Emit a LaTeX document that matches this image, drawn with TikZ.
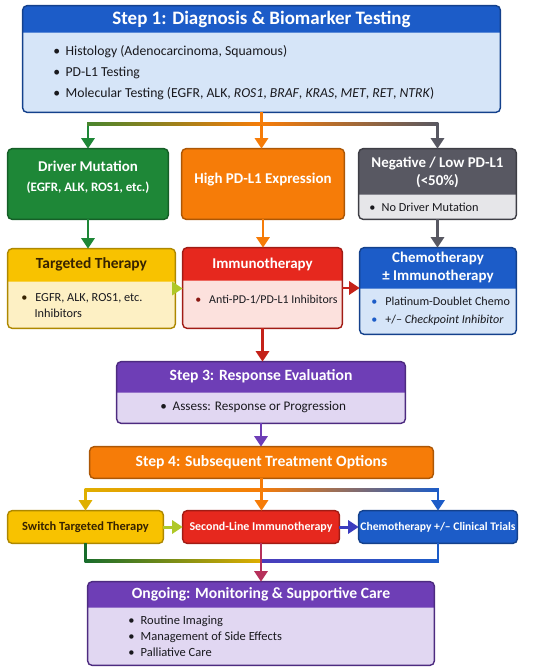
\documentclass[tikz,border=0pt]{standalone}
\usepackage{fontspec}
\setmainfont{Carlito}
\usetikzlibrary{arrows.meta,calc,fit}
\definecolor{ink}{RGB}{25,25,30}
\definecolor{cblue}{RGB}{28,92,200}
\definecolor{lblue}{RGB}{214,229,248}
\definecolor{cgreen}{RGB}{30,135,55}
\definecolor{corange}{RGB}{246,124,8}
\definecolor{cgray}{RGB}{88,88,98}
\definecolor{lgray}{RGB}{230,230,233}
\definecolor{cyellow}{RGB}{248,194,0}
\definecolor{lyellow}{RGB}{253,240,196}
\definecolor{tyellow}{RGB}{55,35,0}
\definecolor{cred}{RGB}{230,40,30}
\definecolor{lred}{RGB}{252,225,221}
\definecolor{cpurple}{RGB}{110,62,182}
\definecolor{lpurple}{RGB}{225,215,242}
\definecolor{clime}{RGB}{175,200,40}
\definecolor{cindigo}{RGB}{60,60,190}
% Karte: Name, Ecke oben links, Ecke unten rechts, Kopfhoehe, Kopffarbe, Flaechenfarbe
\newcommand{\flowcard}[6]{%
  \node[fit={#2 #3}, inner sep=0pt] (#1) {};
  \fill[#6, rounded corners=2.5pt] (#1.north west) rectangle (#1.south east);
  \fill[#5] ($(#1.north west)+(0,#4)$) [rounded corners=2.5pt] -- (#1.north west) -- (#1.north east)
    [sharp corners] -- ($(#1.north east)+(0,#4)$) -- cycle;
  \draw[#5!70!black, line width=0.8pt, rounded corners=2.5pt] (#1.north west) rectangle (#1.south east);
}
\newcommand{\itm}[1]{\makebox[7pt][l]{\textbullet}#1}
\tikzset{
  every picture/.style={x=0.02cm, y=-0.02cm, line join=round},
  % Verbindungen
  link/.style={line width=1.7pt, -{Triangle[length=6pt,width=7.5pt]}},
  plain/.style={line width=1.7pt},
  % Beschriftung
  head/.style={font=\bfseries\fontsize{8.5}{10.2}\selectfont, text=white, align=center, inner sep=0pt},
  big head/.style={head, font=\bfseries\fontsize{10.8}{12}\selectfont},
  step head/.style={head, font=\bfseries\fontsize{8.9}{10.5}\selectfont},
  small head/.style={head, font=\bfseries\fontsize{6.6}{8}\selectfont},
  list/.style={font=\fontsize{7}{10}\selectfont, text=ink, align=left, anchor=west, inner sep=0pt},
}

\begin{document}
\begin{tikzpicture}
  \useasboundingbox (0,0) rectangle (550,670);
  % Step 1
  \flowcard{s1}{(23,6)}{(500,112)}{27}{cblue}{lblue}
  \node[big head] (s1t) at ($(s1.north)+(0,13.5)$) {Step 1: Diagnosis \& Biomarker Testing};
  \node[list, font=\fontsize{7.8}{11.9}\selectfont] (s1l) at (53,73) {\itm{Histology (Adenocarcinoma, Squamous)}\\
    \itm{PD-L1 Testing}\\
    \itm{Molecular Testing (EGFR, ALK, \textit{ROS1}, \textit{BRAF}, \textit{KRAS}, \textit{MET}, \textit{RET}, \textit{NTRK})}};
  % Zeile 2
  \flowcard{drv}{(8,149)}{(168,219)}{5}{cgreen}{cgreen}
  \node[head] (drvt) at (88,177) {Driver Mutation\\[1pt]{\fontsize{7.35}{9}\selectfont (EGFR, ALK, ROS1, etc.)}};
  \flowcard{hpd}{(182,149)}{(344,219)}{5}{corange}{corange}
  \node[head] (hpdt) at (263,180) {High PD-L1 Expression};
  \flowcard{neg}{(359,149)}{(516,219)}{46}{cgray}{lgray}
  \node[head] (negt) at ($(neg.north)+(0,24)$) {Negative / Low PD-L1\\(<50\%)};
  \node[list] (negl) at (369,207) {\itm{No Driver Mutation}};
  % Zeile 3
  \flowcard{tgt}{(8,249)}{(175,328)}{33}{cyellow}{lyellow}
  \node[head, text=tyellow, font=\bfseries\fontsize{8.8}{10}\selectfont] (tgtt) at ($(tgt.north)+(0,16)$) {Targeted Therapy};
  \node[list, font=\fontsize{7}{9.6}\selectfont] (tgtl) at (21,305.5)
    {{\color{tyellow}\textbullet}\hspace{4.5pt}EGFR, ALK, ROS1, etc.\\ \hspace*{7.5pt}Inhibitors};
  \flowcard{imm}{(183,248)}{(342,328)}{33}{cred}{lred}
  \node[head] (immt) at ($(imm.north)+(0,17)$) {Immunotherapy};
  \node[list, font=\fontsize{6.8}{9}\selectfont] (imml) at (195,300) {{\color{cred!60!black}\textbullet}\hspace{4.5pt}Anti-PD-1/PD-L1 Inhibitors};
  \flowcard{chm}{(360,248)}{(516,334)}{41}{cblue}{lblue}
  \node[head] (chmt) at ($(chm.north)+(0,20)$) {Chemotherapy\\± Immunotherapy};
  \node[list, font=\fontsize{6.9}{10.2}\selectfont] (chml) at (371,311)
    {{\color{cblue}\textbullet}\hspace{4.5pt}Platinum-Doublet Chemo\\
     {\color{cblue}\textbullet}\hspace{4.5pt}+/-- \textit{Checkpoint Inhibitor}};
  % Step 3 und 4
  \flowcard{s3}{(117,362)}{(405,423)}{31}{cpurple}{lpurple}
  \node[step head] (s3t) at ($(s3.north)+(0,15)$) {Step 3: Response Evaluation};
  \node[list, font=\fontsize{7.5}{10}\selectfont] (s3l) at (160,407) {\itm{Assess: Response or Progression}};
  \flowcard{s4}{(90,447)}{(433,478)}{5}{corange}{corange}
  \node[step head] (s4t) at (s4.center) {Step 4: Subsequent Treatment Options};
  % Zeile 5
  \flowcard{sw}{(8,511)}{(163,543)}{5}{cyellow}{cyellow}
  \node[small head, text=tyellow, font=\bfseries\fontsize{7.1}{8}\selectfont] (swt) at (sw.center) {Switch Targeted Therapy};
  \flowcard{sl}{(183,511)}{(339,543)}{5}{cred}{cred}
  \node[small head, font=\bfseries\fontsize{6.8}{8}\selectfont] (slt) at (sl.center) {Second-Line Immunotherapy};
  \flowcard{cc}{(359,511)}{(517,543)}{5}{cblue}{cblue}
  \node[small head] (cct) at (cc.center) {Chemotherapy +/-- Clinical Trials};
  % Nachsorge
  \flowcard{ong}{(88,582)}{(434,665)}{26}{cpurple}{lpurple}
  \node[step head] (ongt) at ($(ong.north)+(0,13)$) {Ongoing: Monitoring \& Supportive Care};
  \node[list, font=\fontsize{7.1}{9.1}\selectfont] (ongl) at (128,636) {\itm{Routine Imaging}\\
    \itm{Management of Side Effects}\\
    \itm{Palliative Care}};
  % Verzweigung nach Step 1
  \coordinate (split1) at ($(s1.south)+(0,12)$);
  \draw[link, corange] (s1.south) -- (s1.south |- hpd.north);
  \draw[link, cgreen] (split1) -| (drv.north);
  \draw[link, cgray] (split1) -| (neg.north);
  \shade[left color=cgreen!80!corange, right color=corange] ($(split1 -| drv.north)+(-0.8,-1.5)$) rectangle ($(split1)+(0,1.5)$);
  \shade[left color=corange, right color=cgray] ($(split1)+(0,-1.5)$) rectangle ($(split1 -| neg.north)+(0.8,1.5)$);
  % Zeile 2 -> Zeile 3
  \draw[link, cgreen] (drv.south) -- (drv.south |- tgt.north);
  \draw[link, corange] (hpd.south) -- (hpd.south |- imm.north);
  \draw[link, cgray] (neg.south) -- (neg.south |- chm.north);
  \draw[link, clime] (tgt.east) -- (tgt.east -| imm.west);
  \draw[link, cred!85!black] (imm.east) -- (imm.east -| chm.west);
  % Step 3 und 4
  \draw[link, cred!85!black] (imm.south) -- (imm.south |- s3.north);
  \draw[link, cpurple] (s3.south) -- (s3.south |- s4.north);
  % Verzweigung nach Step 4
  \coordinate (split2) at ($(s4.south)+(0,12)$);
  \draw[link, corange] (s4.south) -- (s4.south |- sl.north);
  \draw[link, cyellow!90!black] (split2) -| (sw.north);
  \draw[link, cblue] (split2) -| (cc.north);
  \shade[left color=cyellow!90!black, right color=corange] ($(split2 -| sw.north)+(-0.8,-1.5)$) rectangle ($(split2)+(0,1.5)$);
  \shade[left color=corange, right color=cblue] ($(split2)+(0,-1.5)$) rectangle ($(split2 -| cc.north)+(0.8,1.5)$);
  \draw[link, clime] (sw.east) -- (sw.east -| sl.west);
  \draw[link, cindigo] (sl.east) -- (sl.east -| cc.west);
  % Zusammenfuehrung
  \coordinate (join) at ($(sl.south)+(0,18)$);
  \draw[plain, cgreen!80!black] (sw.south) |- (join);
  \draw[plain, cblue] (cc.south) |- (join);
  \shade[left color=cgreen!80!black, right color=cyellow!90!black] ($(join -| sw.south)+(-0.8,-1.5)$) rectangle ($(join)+(0,1.5)$);
  \shade[left color=cindigo!70!cpurple, right color=cblue] ($(join)+(0,-1.5)$) rectangle ($(join -| cc.south)+(0.8,1.5)$);
  \draw[link, cred!60!cpurple] (sl.south) -- (sl.south |- ong.north);
\end{tikzpicture}
\end{document}
